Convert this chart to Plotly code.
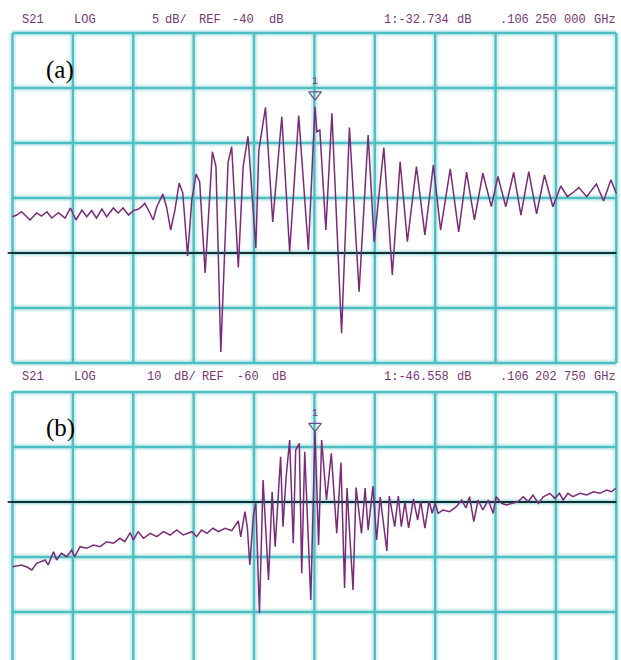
import plotly.graph_objects as go

# ---------------- data ----------------
# x: position in screen divisions (0..10, centre = marker frequency), y: dB
a_x = [0.00, 0.07, 0.15, 0.29, 0.40, 0.48, 0.57, 0.65, 0.76, 0.87, 0.96, 1.05, 1.15, 1.23,
       1.31, 1.39, 1.48, 1.56, 1.67, 1.75, 1.83, 1.92, 2.00, 2.08, 2.14, 2.19, 2.25, 2.33,
       2.39, 2.49, 2.55, 2.62, 2.69, 2.76, 2.82, 2.90, 2.97, 3.04, 3.10, 3.19, 3.31, 3.37,
       3.45, 3.57, 3.63, 3.74, 3.82, 3.90, 4.03, 4.08, 4.19, 4.31, 4.46, 4.59, 4.74, 4.90,
       5.01, 5.04, 5.09, 5.19, 5.29, 5.45, 5.58, 5.74, 5.89, 5.99, 6.15, 6.29, 6.42, 6.54,
       6.69, 6.83, 6.97, 7.09, 7.25, 7.39, 7.52, 7.65, 7.79, 7.93, 8.04, 8.17, 8.30, 8.42,
       8.55, 8.68, 8.81, 8.95, 9.08, 9.19, 9.30, 9.38, 9.51, 9.67, 9.79, 9.91, 10.00]
a_db = [-36.70, -36.55, -36.25, -37.00, -36.36, -36.64, -36.25, -36.82, -36.34, -36.82, -35.91,
        -37.00, -36.09, -36.70, -36.15, -36.82, -36.00, -36.70, -35.91, -36.36, -35.91, -36.55,
        -36.15, -36.03, -35.79, -35.48, -36.09, -37.00, -35.79, -34.64, -35.79, -37.91, -36.09,
        -33.64, -34.55, -40.27, -35.18, -32.82, -33.52, -41.82, -30.79, -32.15, -49.00, -31.79,
        -30.34, -41.32, -32.15, -29.39, -39.55, -30.64, -26.77, -37.18, -27.61, -39.88, -27.50,
        -39.73, -26.70, -28.97, -28.82, -37.91, -27.30, -47.30, -28.59, -43.52, -29.27, -39.00,
        -30.41, -42.00, -31.70, -38.97, -32.15, -38.36, -32.00, -37.91, -32.36, -38.09, -32.64,
        -37.00, -32.75, -35.79, -33.03, -35.79, -32.68, -36.55, -32.61, -36.45, -32.91, -35.79,
        -33.91, -34.88, -34.43, -34.05, -34.88, -33.73, -35.27, -33.34, -34.57]
a_marker_x = 5.01

b_x = [0.00, 0.07, 0.15, 0.24, 0.32, 0.40, 0.46, 0.54, 0.59, 0.68, 0.73, 0.81, 0.90, 0.98,
       1.03, 1.12, 1.23, 1.34, 1.45, 1.56, 1.67, 1.78, 1.86, 1.95, 2.00, 2.08, 2.17, 2.28,
       2.39, 2.50, 2.61, 2.72, 2.83, 2.97, 3.05, 3.13, 3.22, 3.32, 3.41, 3.52, 3.63, 3.68,
       3.74, 3.78, 3.85, 3.89, 3.93, 3.99, 4.03, 4.09, 4.15, 4.24, 4.30, 4.35, 4.44, 4.48,
       4.53, 4.59, 4.65, 4.69, 4.75, 4.79, 4.84, 4.94, 5.01, 5.07, 5.12, 5.20, 5.28, 5.37,
       5.44, 5.50, 5.54, 5.64, 5.69, 5.78, 5.84, 5.89, 5.97, 6.03, 6.09, 6.20, 6.24, 6.33,
       6.39, 6.44, 6.50, 6.56, 6.64, 6.71, 6.76, 6.83, 6.90, 6.95, 7.00, 7.05, 7.13, 7.24,
       7.35, 7.44, 7.51, 7.57, 7.64, 7.71, 7.79, 7.88, 7.96, 8.01, 8.10, 8.18, 8.29, 8.37,
       8.46, 8.54, 8.62, 8.71, 8.79, 8.90, 8.98, 9.06, 9.12, 9.20, 9.28, 9.40, 9.51, 9.62,
       9.73, 9.84, 9.92, 9.99]
b_db = [-71.76, -71.64, -71.45, -71.82, -72.36, -71.15, -70.85, -70.55, -71.45, -69.04, -70.55,
        -69.33, -69.95, -68.73, -69.95, -68.13, -68.42, -67.82, -68.13, -67.22, -67.51, -66.60,
        -67.22, -65.58, -66.91, -65.40, -66.60, -65.69, -66.31, -65.40, -66.00, -65.09, -66.00,
        -65.40, -66.31, -65.09, -65.69, -64.78, -65.40, -64.78, -65.22, -64.49, -63.45, -66.36,
        -61.76, -64.73, -71.45, -62.36, -60.24, -80.24, -56.00, -74.18, -58.13, -68.13, -51.76,
        -64.49, -55.69, -48.73, -67.51, -50.55, -49.33, -72.96, -50.85, -77.82, -47.09, -67.82,
        -48.73, -59.64, -51.15, -65.69, -52.82, -75.64, -57.45, -76.00, -57.36, -65.69, -57.45,
        -65.09, -57.09, -66.91, -59.09, -68.91, -58.91, -64.49, -58.91, -64.49, -60.00, -64.73,
        -59.45, -63.27, -59.82, -64.73, -59.82, -62.05, -60.24, -62.05, -61.45, -61.76, -60.85,
        -59.64, -61.09, -59.04, -63.58, -59.64, -61.45, -59.64, -62.05, -59.04, -60.24, -60.55,
        -60.24, -59.95, -59.04, -59.95, -58.73, -60.24, -59.04, -58.42, -59.33, -58.42, -59.64,
        -58.42, -59.04, -58.42, -58.73, -58.13, -58.42, -57.82, -58.13, -57.51]
b_marker_x = 5.01

header_a = ["S21", "LOG", "5", "dB/", "REF", "-40", "dB", "1:-32.734", "dB", ".106", "250", "000", "GHz"]
header_b = ["S21", "LOG", "10", "dB/", "REF", "-60", "dB", "1:-46.558", "dB", ".106", "202", "750", "GHz"]
ref_a, scale_a = -40, 5
ref_b, scale_b = -60, 10
labels = ["(a)", "(b)"]

# ---------------- layout constants (pixels) ----------------
W, H = 621, 660
X0, DX = 12.5, 60.38          # left grid line, pixels per division
A_TOP, B_TOP, DY = 33, 392, 55  # top grid lines, pixels per vertical division
A_TOPDB, B_TOPDB = -20, -40

TRACE = "#7a2a78"
GRID = "#4dbfc3"
HALO = "rgba(150,215,218,0.35)"
TXT = "#7a3576"

xr = [-0.1, 10.06]
xdom = [(X0 + xr[0] * DX) / W, (X0 + xr[1] * DX) / W]


def ydom(top_px, top_db, db_per_div, rng):
    ppd = DY / db_per_div
    def px(v):
        return top_px + (top_db - v) * ppd
    return [max(0.0, 1 - px(rng[0]) / H), min(1.0, 1 - px(rng[1]) / H)]


a_rng = [-50.35, -19.65]
b_rng = [-40 - (H - B_TOP) / DY * scale_b, -39.7]

fig = go.Figure()
fig.add_trace(go.Scatter(x=a_x, y=a_db, mode="lines", line=dict(color=TRACE, width=1.5),
                         xaxis="x", yaxis="y", hoverinfo="skip", showlegend=False))
fig.add_trace(go.Scatter(x=b_x, y=b_db, mode="lines", line=dict(color=TRACE, width=1.5),
                         xaxis="x2", yaxis="y2", hoverinfo="skip", showlegend=False))

# markers
am = a_db[a_x.index(a_marker_x)]
bm = b_db[b_x.index(b_marker_x)]
for xa, ya, mx, my in (("x", "y", a_marker_x, am + 1.1), ("x2", "y2", b_marker_x, bm + 0.9)):
    fig.add_trace(go.Scatter(x=[mx], y=[my], mode="markers+text", text=["1"],
                             textposition="top center",
                             textfont=dict(family="Liberation Mono", size=10, color=TXT),
                             marker=dict(symbol="triangle-down-open", size=11, color="#6a4a8a",
                                         line=dict(width=1.2)),
                             xaxis=xa, yaxis=ya, hoverinfo="skip", showlegend=False))

shapes = []


def grid(xa, ya, ticks_db, vlo, vhi):
    for lw, col in ((7, HALO), (2.4, GRID)):
        for i in range(11):
            shapes.append(dict(type="line", xref=xa, yref=ya, x0=i, x1=i, y0=vlo, y1=vhi,
                               line=dict(color=col, width=lw), layer="below"))
        for v in ticks_db:
            shapes.append(dict(type="line", xref=xa, yref=ya, x0=0, x1=10, y0=v, y1=v,
                               line=dict(color=col, width=lw), layer="below"))


grid("x", "y", [-20, -25, -30, -35, -40, -45, -50], -50, -20)
grid("x2", "y2", [-40, -50, -60, -70, -80], -100, -40)

# reference lines
shapes.append(dict(type="line", xref="x", yref="y", x0=-0.08, x1=10, y0=ref_a, y1=ref_a,
                   line=dict(color="black", width=1.3), layer="below"))
shapes.append(dict(type="line", xref="x2", yref="y2", x0=-0.08, x1=10, y0=ref_b, y1=ref_b,
                   line=dict(color="black", width=1.3), layer="below"))

# white label boxes
for top, bot in ((47, 98), (407, 451)):
    shapes.append(dict(type="rect", xref="paper", yref="paper", x0=28 / W, x1=108 / W,
                       y0=1 - bot / H, y1=1 - top / H, fillcolor="white",
                       line=dict(width=0), layer="below"))

annotations = []
pos_a = [20, 72, 150, 163, 197, 230, 267, 382, 455, 498, 533, 562, 592]
pos_b = [20, 72, 145, 172, 200, 235, 270, 382, 455, 498, 533, 562, 592]
for toks, pos, yc in ((header_a, pos_a, 20), (header_b, pos_b, 377)):
    for t, p in zip(toks, pos):
        annotations.append(dict(text=t, x=p / W, y=1 - yc / H, xref="paper", yref="paper",
                                xanchor="left", yanchor="middle", showarrow=False,
                                font=dict(family="Liberation Mono", size=12, color=TXT)))
for lab, cy in zip(labels, (70, 428)):
    annotations.append(dict(text=lab, x=60 / W, y=1 - cy / H, xref="paper", yref="paper",
                            xanchor="center", yanchor="middle", showarrow=False,
                            font=dict(family="Liberation Serif", size=25, color="black")))

ax_common = dict(showticklabels=False, showgrid=False, zeroline=False, showline=False,
                 ticks="", fixedrange=True)
fig.update_layout(
    width=W, height=H, margin=dict(l=0, r=0, t=0, b=0),
    paper_bgcolor="white", plot_bgcolor="rgba(0,0,0,0)",
    xaxis=dict(domain=xdom, range=xr, anchor="y", **ax_common),
    yaxis=dict(domain=ydom(A_TOP, A_TOPDB, scale_a, a_rng), range=a_rng, anchor="x", **ax_common),
    xaxis2=dict(domain=xdom, range=xr, anchor="y2", **ax_common),
    yaxis2=dict(domain=ydom(B_TOP, B_TOPDB, scale_b, b_rng), range=b_rng, anchor="x2", **ax_common),
    shapes=shapes, annotations=annotations, showlegend=False,
)

fig.write_html("out.html", config={"displayModeBar": False},
               post_script="document.body.style.margin='0';document.body.style.padding='0';"
                           "document.body.style.overflow='hidden';")
